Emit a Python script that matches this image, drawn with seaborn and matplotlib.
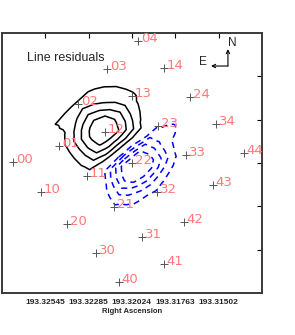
import numpy as np
import pandas as pd
import matplotlib
matplotlib.use("Agg")
import matplotlib.pyplot as plt
import matplotlib.tri as mtri
import seaborn as sns

sns.set_style("white")
plt.rcParams['font.family'] = ['DejaVu Sans']

# fibre names, positions (RA in deg, Dec offset in arcsec) and line residuals
fibre_names = ['00', '01', '02', '03', '04',
               '10', '11', '12', '13', '14',
               '20', '21', '22', '23', '24',
               '30', '31', '32', '33', '34',
               '40', '41', '42', '43', '44']
fibre_ra = [193.327396, 193.324628, 193.323484, 193.321739, 193.319874,
            193.325711, 193.322943, 193.321860, 193.320235, 193.318309,
            193.324146, 193.321318, 193.320235, 193.318670, 193.316745,
            193.322401, 193.319633, 193.318731, 193.316986, 193.315180,
            193.321017, 193.318309, 193.317106, 193.315361, 193.313496]
fibre_dec = [0.23, 3.92, 13.62, 21.69, 28.15,
             -6.69, -3.00, 7.15, 15.46, 21.92,
             -14.08, -10.15, 0.00, 8.54, 15.23,
             -20.77, -17.08, -6.69, 1.85, 9.00,
             -27.46, -23.31, -13.62, -5.08, 2.31]
residual = [0.1, 0.5, 1.3, 0.3, 0.1,
            -0.1, 0.5, 5.0, 1.1, 0.3,
            -0.1, -0.4, -2.6, -0.45, 0.2,
            0.1, -0.15, -0.4, -0.05, 0.2,
            0.0, 0.1, -0.1, 0.1, 0.2]

pos_levels = [1, 2, 3, 4]
neg_levels = [-2, -1.5, -1, -0.5]

ra_ticks = [193.32545, 193.32285, 193.32024, 193.31763, 193.31502]
ra_tick_labels = ['193.32545', '193.32285', '193.32024', '193.31763', '193.31502']

df = pd.DataFrame({'name': fibre_names, 'ra': fibre_ra, 'dec': fibre_dec,
                   'resid': residual})

step = (ra_ticks[0] - ra_ticks[-1]) / (len(ra_ticks) - 1)
xlim = (ra_ticks[0] + step, ra_ticks[-1] - step)
ylim = (-30, 30)

fig = plt.figure(figsize=(2.95, 3.35), dpi=100)
ax = fig.add_axes([2 / 295, 42 / 335, 260 / 295, 260 / 335])

# triangulate in axes-fraction space so that the mesh is not squashed,
# then smooth the surface with a cubic interpolator on a refined mesh
xs = (df['ra'] - xlim[0]) / (xlim[1] - xlim[0])
ys = (df['dec'] - ylim[0]) / (ylim[1] - ylim[0])
tri_n = mtri.Triangulation(xs, ys)
interp = mtri.CubicTriInterpolator(tri_n, df['resid'].values, kind='geom')
refiner = mtri.UniformTriRefiner(tri_n)
tri_f, z_f = refiner.refine_field(df['resid'].values, triinterpolator=interp,
                                  subdiv=2)
tri_f = mtri.Triangulation(xlim[0] + tri_f.x * (xlim[1] - xlim[0]),
                           ylim[0] + tri_f.y * (ylim[1] - ylim[0]),
                           tri_f.triangles)

ax.tricontour(tri_f, z_f, levels=pos_levels, colors='black',
              linewidths=1.1, linestyles='solid')
ax.tricontour(tri_f, z_f, levels=neg_levels, colors='#0000ff',
              linewidths=1.1, linestyles=[(0, (4, 3))])

sns.scatterplot(data=df, x='ra', y='dec', marker='+', color='#555555',
                s=40, linewidth=0.7, ax=ax, legend=False, zorder=3)

for _, row in df.iterrows():
    ax.annotate(row['name'], (row['ra'], row['dec']), xytext=(2, -0.8),
                textcoords='offset points', color='#ff7878', fontsize=9.5,
                ha='left', va='baseline', annotation_clip=False)

ax.set_xlim(xlim)
ax.set_ylim(ylim)
ax.set_xticks(ra_ticks)
ax.set_xticklabels(ra_tick_labels, family='Liberation Sans',
                   fontweight='bold', fontsize=6)
ax.set_yticks([-20, -10, 0, 10, 20])
ax.tick_params(direction='in', top=True, right=True, length=3.6, width=0.8,
               color='black', labelleft=False, pad=4)
ax.set_xlabel('Right Ascension', family='Liberation Sans', fontweight='bold',
              fontsize=5.5, labelpad=1.5)
ax.set_ylabel('')
for s in ax.spines.values():
    s.set_linewidth(1.4)
    s.set_color('#3a3a3a')

ax.text(0.096, 0.893, 'Line residuals', transform=ax.transAxes,
        family='Liberation Sans', fontsize=9, va='baseline', ha='left')

# compass
arrow = dict(arrowstyle='->', lw=0.8, color='black', shrinkA=0, shrinkB=0,
             mutation_scale=6)
ax.annotate('', xy=(0.869, 0.938), xytext=(0.869, 0.873),
            xycoords='axes fraction', arrowprops=arrow)
ax.annotate('', xy=(0.804, 0.873), xytext=(0.869, 0.873),
            xycoords='axes fraction', arrowprops=arrow)
ax.text(0.885, 0.963, 'N', transform=ax.transAxes, family='Liberation Sans',
        fontsize=8.5, ha='center', va='center')
ax.text(0.773, 0.887, 'E', transform=ax.transAxes, family='Liberation Sans',
        fontsize=8.5, ha='center', va='center')

fig.savefig('out.png', dpi=100)
